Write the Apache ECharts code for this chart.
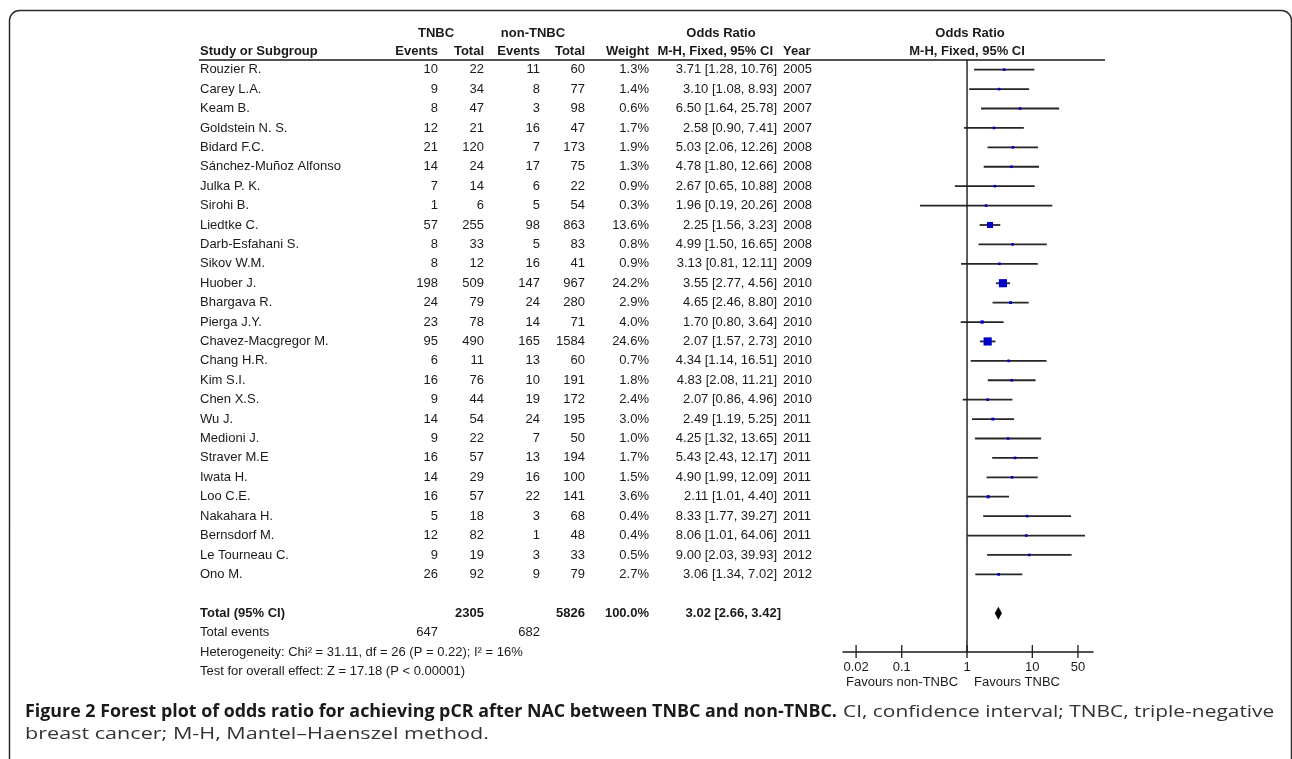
<!DOCTYPE html>
<html>
<head>
<meta charset="utf-8">
<script src="https://cdn.jsdelivr.net/npm/echarts@6/dist/echarts.min.js"></script>
<style>
  html, body { margin: 0; padding: 0; background: #ffffff; }
  #chart { width: 1292px; height: 759px; }
</style>
</head>
<body>
<div id="chart"></div>
<script>
// Studies included in the meta-analysis (one row each)
const studies = ['Rouzier R.', 'Carey L.A.', 'Keam B.', 'Goldstein N. S.', 'Bidard F.C.',
  'Sánchez-Muñoz Alfonso', 'Julka P. K.', 'Sirohi B.', 'Liedtke C.', 'Darb-Esfahani S.',
  'Sikov W.M.', 'Huober J.', 'Bhargava R.', 'Pierga J.Y.', 'Chavez-Macgregor M.',
  'Chang H.R.', 'Kim S.I.', 'Chen X.S.', 'Wu J.', 'Medioni J.', 'Straver M.E',
  'Iwata H.', 'Loo C.E.', 'Nakahara H.', 'Bernsdorf M.', 'Le Tourneau C.', 'Ono M.'];
const tnbcEvents = [10, 9, 8, 12, 21, 14, 7, 1, 57, 8, 8, 198, 24, 23, 95, 6, 16, 9, 14, 9, 16, 14, 16, 5, 12, 9, 26];
const tnbcTotal = [22, 34, 47, 21, 120, 24, 14, 6, 255, 33, 12, 509, 79, 78, 490, 11, 76, 44, 54, 22, 57, 29, 57, 18, 82, 19, 92];
const nonEvents = [11, 8, 3, 16, 7, 17, 6, 5, 98, 5, 16, 147, 24, 14, 165, 13, 10, 19, 24, 7, 13, 16, 22, 3, 1, 3, 9];
const nonTotal = [60, 77, 98, 47, 173, 75, 22, 54, 863, 83, 41, 967, 280, 71, 1584, 60, 191, 172, 195, 50, 194, 100, 141, 68, 48, 33, 79];
const weights = [1.3, 1.4, 0.6, 1.7, 1.9, 1.3, 0.9, 0.3, 13.6, 0.8, 0.9, 24.2, 2.9, 4.0, 24.6, 0.7, 1.8, 2.4, 3.0, 1.0, 1.7, 1.5, 3.6, 0.4, 0.4, 0.5, 2.7];
const oddsRatio = [3.71, 3.10, 6.50, 2.58, 5.03, 4.78, 2.67, 1.96, 2.25, 4.99, 3.13, 3.55, 4.65, 1.70, 2.07, 4.34, 4.83, 2.07, 2.49, 4.25, 5.43, 4.90, 2.11, 8.33, 8.06, 9.00, 3.06];
const ciLow = [1.28, 1.08, 1.64, 0.90, 2.06, 1.80, 0.65, 0.19, 1.56, 1.50, 0.81, 2.77, 2.46, 0.80, 1.57, 1.14, 2.08, 0.86, 1.19, 1.32, 2.43, 1.99, 1.01, 1.77, 1.01, 2.03, 1.34];
const ciHigh = [10.76, 8.93, 25.78, 7.41, 12.26, 12.66, 10.88, 20.26, 3.23, 16.65, 12.11, 4.56, 8.80, 3.64, 2.73, 16.51, 11.21, 4.96, 5.25, 13.65, 12.17, 12.09, 4.40, 39.27, 64.06, 39.93, 7.02];
const years = [2005, 2007, 2007, 2007, 2008, 2008, 2008, 2008, 2008, 2008, 2009, 2010, 2010, 2010, 2010, 2010, 2010, 2010, 2011, 2011, 2011, 2011, 2011, 2011, 2011, 2012, 2012];

// Pooled (fixed-effect, Mantel-Haenszel) result
const pooledTotals = { tnbcTotal: 2305, nonTotal: 5826, tnbcEvents: 647, nonEvents: 682, weight: '100.0%' };
const pooledOR = [3.02, 2.66, 3.42];
const heterogeneityText = 'Heterogeneity: Chi\u00b2 = 31.11, df = 26 (P = 0.22); I\u00b2 = 16%';
const overallEffectText = 'Test for overall effect: Z = 17.18 (P < 0.00001)';

// Odds-ratio axis ticks
const tickValues = [0.02, 0.1, 1, 10, 50];
const tickLabels = ['0.02', '0.1', '1', '10', '50'];

// Figure caption
const captionTitle = 'Figure 2 Forest plot of odds ratio for achieving pCR after NAC between TNBC and non-TNBC.';
const captionLine1 = 'CI, confidence interval; TNBC, triple-negative';
const captionLine2 = 'breast cancer; M-H, Mantel\u2013Haenszel method.';

// Row slots on the vertical scale
const TOTAL_ROW = 28;
const AXIS_ROW = 30;

const INK = '#1a1a1a';
const FAMILY = "'Liberation Sans', Arial, Helvetica, sans-serif";
const FONT = '13px ' + FAMILY;
const BOLD = 'bold 13px ' + FAMILY;
const CAPTION_FAMILY = "'Open Sans', 'Noto Sans', sans-serif";
const COL = { name: 200, ev1: 438, tot1: 484, ev2: 540, tot2: 585, weight: 649, ci: 777, year: 783 };

const fmtCI = (o, l, h) => o.toFixed(2) + ' [' + l.toFixed(2) + ', ' + h.toFixed(2) + ']';

function txt(x, y, text, align, font, fill) {
  return { type: 'text', style: { x: x, y: y, text: text, align: align, verticalAlign: 'middle', font: font || FONT, fill: fill || INK } };
}

// Study rows of the left-hand table
function renderTableRow(params, api) {
  const i = params.dataIndex;
  const y = api.coord([1, api.value(1)])[1];
  return {
    type: 'group',
    children: [
      txt(COL.name, y, studies[i], 'left'),
      txt(COL.ev1, y, String(tnbcEvents[i]), 'right'),
      txt(COL.tot1, y, String(tnbcTotal[i]), 'right'),
      txt(COL.ev2, y, String(nonEvents[i]), 'right'),
      txt(COL.tot2, y, String(nonTotal[i]), 'right'),
      txt(COL.weight, y, weights[i].toFixed(1) + '%', 'right'),
      txt(COL.ci, y, fmtCI(oddsRatio[i], ciLow[i], ciHigh[i]), 'right'),
      txt(COL.year, y, String(years[i]), 'left')
    ]
  };
}

// Confidence-interval whisker with a weight-scaled square
function renderStudyCI(params, api) {
  const row = api.value(3);
  const c = api.coord([api.value(0), row]);
  const l = api.coord([api.value(1), row]);
  const h = api.coord([api.value(2), row]);
  const s = Math.max(2.6, 1.65 * Math.sqrt(api.value(4)));
  return {
    type: 'group',
    children: [
      { type: 'line', shape: { x1: l[0], y1: l[1], x2: h[0], y2: h[1] }, style: { stroke: '#262626', lineWidth: 1.8 } },
      { type: 'rect', shape: { x: c[0] - s / 2, y: c[1] - s / 2, width: s, height: s }, style: { fill: '#0000c8' } }
    ]
  };
}

// Pooled estimate diamond
function renderDiamond(params, api) {
  const row = api.value(3);
  const c = api.coord([api.value(0), row]);
  const l = api.coord([api.value(1), row]);
  const h = api.coord([api.value(2), row]);
  return {
    type: 'polygon',
    shape: { points: [[l[0], c[1]], [c[0], c[1] - 6.5], [h[0], c[1]], [c[0], c[1] + 6.5]] },
    style: { fill: '#000000' }
  };
}

// Axis ticks and their labels
function renderTick(params, api) {
  const p = api.coord([api.value(0), api.value(1)]);
  return {
    type: 'group',
    children: [
      { type: 'line', shape: { x1: p[0], y1: p[1] - 7, x2: p[0], y2: p[1] + 6 }, style: { stroke: INK, lineWidth: 1.3 } },
      txt(p[0], p[1] + 15.5, tickLabels[params.dataIndex], 'center')
    ]
  };
}

// Column headers, rule, null line, totals and summary statistics
function renderFrame(params, api) {
  const ruleY = api.coord([1, -0.5])[1];
  const h1 = ruleY - 27, h2 = ruleY - 8.5;
  const nullTop = api.coord([1, -0.5]);
  const nullBottom = api.coord([1, AXIS_ROW]);
  const yTot = api.coord([1, TOTAL_ROW])[1];
  const yEv = api.coord([1, TOTAL_ROW + 1])[1];
  const yHet = api.coord([1, TOTAL_ROW + 2])[1];
  const yTest = api.coord([1, TOTAL_ROW + 3])[1];
  const axisY = nullBottom[1];
  return {
    type: 'group',
    children: [
      txt(436, h1, 'TNBC', 'center', BOLD),
      txt(533, h1, 'non-TNBC', 'center', BOLD),
      txt(721, h1, 'Odds Ratio', 'center', BOLD),
      txt(nullTop[0] + 3, h1, 'Odds Ratio', 'center', BOLD),
      txt(COL.name, h2, 'Study or Subgroup', 'left', BOLD),
      txt(COL.ev1, h2, 'Events', 'right', BOLD),
      txt(COL.tot1, h2, 'Total', 'right', BOLD),
      txt(COL.ev2, h2, 'Events', 'right', BOLD),
      txt(COL.tot2, h2, 'Total', 'right', BOLD),
      txt(COL.weight, h2, 'Weight', 'right', BOLD),
      txt(COL.ci - 4, h2, 'M-H, Fixed, 95% CI', 'right', BOLD),
      txt(COL.year, h2, 'Year', 'left', BOLD),
      txt(nullTop[0], h2, 'M-H, Fixed, 95% CI', 'center', BOLD),
      { type: 'line', shape: { x1: 199, y1: ruleY, x2: 1105, y2: ruleY }, style: { stroke: INK, lineWidth: 1.6 } },
      { type: 'line', shape: { x1: nullTop[0], y1: nullTop[1], x2: nullBottom[0], y2: nullBottom[1] }, style: { stroke: INK, lineWidth: 1.4 } },
      txt(COL.name, yTot, 'Total (95% CI)', 'left', BOLD),
      txt(COL.tot1, yTot, String(pooledTotals.tnbcTotal), 'right', BOLD),
      txt(COL.tot2, yTot, String(pooledTotals.nonTotal), 'right', BOLD),
      txt(COL.weight, yTot, pooledTotals.weight, 'right', BOLD),
      txt(COL.ci + 4, yTot, fmtCI(pooledOR[0], pooledOR[1], pooledOR[2]), 'right', BOLD),
      txt(COL.name, yEv, 'Total events', 'left'),
      txt(COL.ev1, yEv, String(pooledTotals.tnbcEvents), 'right'),
      txt(COL.ev2, yEv, String(pooledTotals.nonEvents), 'right'),
      txt(COL.name, yHet, heterogeneityText, 'left'),
      txt(COL.name, yTest, overallEffectText, 'left'),
      txt(nullTop[0] - 9, axisY + 30, 'Favours non-TNBC', 'right'),
      txt(nullTop[0] + 7, axisY + 30, 'Favours TNBC', 'left')
    ]
  };
}

// Caption piece placed at (x, y) and stretched horizontally by sx
function captionText(x, y, text, weight, color, sx) {
  return {
    type: 'text',
    x: x,
    y: y,
    scaleX: sx,
    silent: true,
    style: { x: 0, y: 0, text: text, verticalAlign: 'middle', align: 'left', font: weight + ' 17px ' + CAPTION_FAMILY, fill: color }
  };
}

const chart = echarts.init(document.getElementById('chart'), null, { renderer: 'canvas' });

chart.setOption({
  animation: false,
  backgroundColor: '#ffffff',
  grid: { left: 843, right: 199, top: 60, bottom: 107 },
  xAxis: {
    type: 'log',
    logBase: 10,
    min: 0.0126,
    max: 85,
    axisLine: { show: true, onZero: false, lineStyle: { color: INK, width: 1.5 } },
    axisTick: { show: false },
    axisLabel: { show: false },
    splitLine: { show: false }
  },
  yAxis: {
    type: 'value',
    inverse: true,
    min: -0.5,
    max: AXIS_ROW,
    show: false
  },
  graphic: [
    {
      type: 'rect',
      shape: { x: 9.5, y: 10.5, width: 1282, height: 770, r: 10 },
      style: { fill: null, stroke: '#2b2b2b', lineWidth: 1.5 },
      silent: true
    },
    captionText(25, 712, captionTitle, 'bold', '#1a1a1a', 1.05),
    captionText(843, 712, captionLine1, 'normal', '#333333', 1.23),
    captionText(25, 734, captionLine2, 'normal', '#333333', 1.27)
  ],
  series: [
    {
      type: 'custom',
      name: 'table',
      renderItem: renderTableRow,
      data: studies.map((s, i) => [1, i]),
      encode: { x: 0, y: 1 },
      silent: true
    },
    {
      type: 'custom',
      name: 'studies',
      renderItem: renderStudyCI,
      data: oddsRatio.map((v, i) => [v, ciLow[i], ciHigh[i], i, weights[i]]),
      encode: { x: [0, 1, 2], y: 3 },
      silent: true
    },
    {
      type: 'custom',
      name: 'pooled',
      renderItem: renderDiamond,
      data: [[pooledOR[0], pooledOR[1], pooledOR[2], TOTAL_ROW]],
      encode: { x: [0, 1, 2], y: 3 },
      silent: true
    },
    {
      type: 'custom',
      name: 'ticks',
      renderItem: renderTick,
      data: tickValues.map(v => [v, AXIS_ROW]),
      encode: { x: 0, y: 1 },
      silent: true
    },
    {
      type: 'custom',
      name: 'frame',
      renderItem: renderFrame,
      data: [[1, 0]],
      encode: { x: 0, y: 1 },
      silent: true
    }
  ]
});
</script>
</body>
</html>
